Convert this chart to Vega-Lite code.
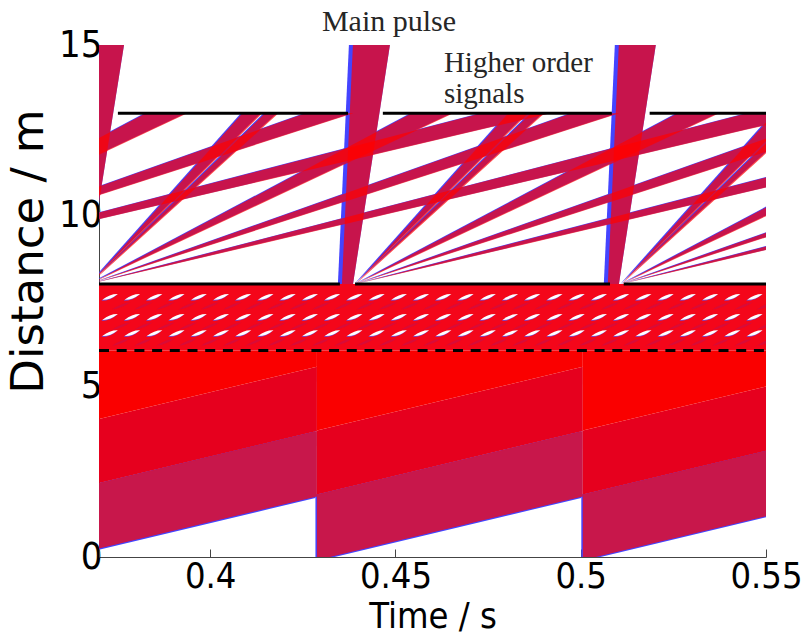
{
  "$schema": "https://vega.github.io/schema/vega-lite/v6.json",
  "width": 667,
  "height": 512,
  "autosize": "none",
  "padding": {"left": 99, "top": 45, "right": 36, "bottom": 78},
  "background": "white",
  "config": {"view": {"stroke": null}},
  "datasets": {
    "lower": [
      {"id": "c0", "layer": "crimson", "t": 0.35705, "lo": -0.091, "hi": 1.829},
      {"id": "c0", "layer": "crimson", "t": 0.42881, "lo": 1.775, "hi": 3.695},
      {"id": "c1", "layer": "crimson", "t": 0.42881, "lo": -0.091, "hi": 1.829},
      {"id": "c1", "layer": "crimson", "t": 0.50056, "lo": 1.775, "hi": 3.695},
      {"id": "c2", "layer": "crimson", "t": 0.50056, "lo": -0.091, "hi": 1.829},
      {"id": "c2", "layer": "crimson", "t": 0.57232, "lo": 1.775, "hi": 3.695},
      {"id": "d0", "layer": "darkred", "t": 0.35705, "lo": 1.829, "hi": 3.709},
      {"id": "d0", "layer": "darkred", "t": 0.42881, "lo": 3.695, "hi": 5.575},
      {"id": "d1", "layer": "darkred", "t": 0.42881, "lo": 1.829, "hi": 3.709},
      {"id": "d1", "layer": "darkred", "t": 0.50056, "lo": 3.695, "hi": 5.575},
      {"id": "d2", "layer": "darkred", "t": 0.50056, "lo": 1.829, "hi": 3.709},
      {"id": "d2", "layer": "darkred", "t": 0.57232, "lo": 3.695, "hi": 5.575},
      {"id": "r0", "layer": "red", "t": 0.35705, "lo": 3.709, "hi": 6.05},
      {"id": "r0", "layer": "red", "t": 0.42881, "lo": 5.575, "hi": 6.05},
      {"id": "r1", "layer": "red", "t": 0.42881, "lo": 3.709, "hi": 6.05},
      {"id": "r1", "layer": "red", "t": 0.50056, "lo": 5.575, "hi": 6.05},
      {"id": "r2", "layer": "red", "t": 0.50056, "lo": 3.709, "hi": 6.05},
      {"id": "r2", "layer": "red", "t": 0.57232, "lo": 5.575, "hi": 6.05}
    ],
    "mottle": [
      {"t": 0.37, "lo": 6.05, "hi": 8.0},
      {"t": 0.55, "lo": 6.05, "hi": 8.0}
    ],
    "dashes": [
      {"t": 0.373, "y": 7.62}, {"t": 0.379, "y": 7.62}, {"t": 0.385, "y": 7.62}, {"t": 0.391, "y": 7.62}, {"t": 0.397, "y": 7.62},
      {"t": 0.403, "y": 7.62}, {"t": 0.409, "y": 7.62}, {"t": 0.415, "y": 7.62}, {"t": 0.421, "y": 7.62}, {"t": 0.427, "y": 7.62},
      {"t": 0.433, "y": 7.62}, {"t": 0.439, "y": 7.62}, {"t": 0.445, "y": 7.62}, {"t": 0.451, "y": 7.62}, {"t": 0.457, "y": 7.62},
      {"t": 0.463, "y": 7.62}, {"t": 0.469, "y": 7.62}, {"t": 0.475, "y": 7.62}, {"t": 0.481, "y": 7.62}, {"t": 0.487, "y": 7.62},
      {"t": 0.493, "y": 7.62}, {"t": 0.499, "y": 7.62}, {"t": 0.505, "y": 7.62}, {"t": 0.511, "y": 7.62}, {"t": 0.517, "y": 7.62},
      {"t": 0.523, "y": 7.62}, {"t": 0.529, "y": 7.62}, {"t": 0.535, "y": 7.62}, {"t": 0.541, "y": 7.62}, {"t": 0.547, "y": 7.62},
      {"t": 0.373, "y": 7.03}, {"t": 0.379, "y": 7.03}, {"t": 0.385, "y": 7.03}, {"t": 0.391, "y": 7.03}, {"t": 0.397, "y": 7.03},
      {"t": 0.403, "y": 7.03}, {"t": 0.409, "y": 7.03}, {"t": 0.415, "y": 7.03}, {"t": 0.421, "y": 7.03}, {"t": 0.427, "y": 7.03},
      {"t": 0.433, "y": 7.03}, {"t": 0.439, "y": 7.03}, {"t": 0.445, "y": 7.03}, {"t": 0.451, "y": 7.03}, {"t": 0.457, "y": 7.03},
      {"t": 0.463, "y": 7.03}, {"t": 0.469, "y": 7.03}, {"t": 0.475, "y": 7.03}, {"t": 0.481, "y": 7.03}, {"t": 0.487, "y": 7.03},
      {"t": 0.493, "y": 7.03}, {"t": 0.499, "y": 7.03}, {"t": 0.505, "y": 7.03}, {"t": 0.511, "y": 7.03}, {"t": 0.517, "y": 7.03},
      {"t": 0.523, "y": 7.03}, {"t": 0.529, "y": 7.03}, {"t": 0.535, "y": 7.03}, {"t": 0.541, "y": 7.03}, {"t": 0.547, "y": 7.03},
      {"t": 0.373, "y": 6.56}, {"t": 0.379, "y": 6.56}, {"t": 0.385, "y": 6.56}, {"t": 0.391, "y": 6.56}, {"t": 0.397, "y": 6.56},
      {"t": 0.403, "y": 6.56}, {"t": 0.409, "y": 6.56}, {"t": 0.415, "y": 6.56}, {"t": 0.421, "y": 6.56}, {"t": 0.427, "y": 6.56},
      {"t": 0.433, "y": 6.56}, {"t": 0.439, "y": 6.56}, {"t": 0.445, "y": 6.56}, {"t": 0.451, "y": 6.56}, {"t": 0.457, "y": 6.56},
      {"t": 0.463, "y": 6.56}, {"t": 0.469, "y": 6.56}, {"t": 0.475, "y": 6.56}, {"t": 0.481, "y": 6.56}, {"t": 0.487, "y": 6.56},
      {"t": 0.493, "y": 6.56}, {"t": 0.499, "y": 6.56}, {"t": 0.505, "y": 6.56}, {"t": 0.511, "y": 6.56}, {"t": 0.517, "y": 6.56},
      {"t": 0.523, "y": 6.56}, {"t": 0.529, "y": 6.56}, {"t": 0.535, "y": 6.56}, {"t": 0.541, "y": 6.56}, {"t": 0.547, "y": 6.56}
    ],
    "bands": [
      {"id": "F0b", "t": 0.29581, "lo": 8, "hi": 8}, {"id": "F0b", "t": 0.38262, "lo": 12.427, "hi": 13}, {"id": "F0b", "t": 0.39385, "lo": 13, "hi": 13},
      {"id": "F0c", "t": 0.29581, "lo": 8, "hi": 8}, {"id": "F0c", "t": 0.42568, "lo": 12.545, "hi": 13}, {"id": "F0c", "t": 0.43867, "lo": 13, "hi": 13},
      {"id": "F0d", "t": 0.29581, "lo": 8, "hi": 8}, {"id": "F0d", "t": 0.47312, "lo": 12.521, "hi": 13}, {"id": "F0d", "t": 0.49189, "lo": 13, "hi": 13},
      {"id": "F1A1", "t": 0.36757, "lo": 8, "hi": 8}, {"id": "F1A1", "t": 0.40869, "lo": 12.42, "hi": 13}, {"id": "F1A1", "t": 0.41408, "lo": 13, "hi": 13},
      {"id": "F1A2", "t": 0.36757, "lo": 8, "hi": 8}, {"id": "F1A2", "t": 0.41478, "lo": 12.641, "hi": 13}, {"id": "F1A2", "t": 0.41844, "lo": 13, "hi": 13},
      {"id": "F1b", "t": 0.36757, "lo": 8, "hi": 8}, {"id": "F1b", "t": 0.45438, "lo": 12.427, "hi": 13}, {"id": "F1b", "t": 0.46561, "lo": 13, "hi": 13},
      {"id": "F1c", "t": 0.36757, "lo": 8, "hi": 8}, {"id": "F1c", "t": 0.49744, "lo": 12.545, "hi": 13}, {"id": "F1c", "t": 0.51043, "lo": 13, "hi": 13},
      {"id": "F1d", "t": 0.36757, "lo": 8, "hi": 8}, {"id": "F1d", "t": 0.54488, "lo": 12.521, "hi": 13}, {"id": "F1d", "t": 0.56365, "lo": 13, "hi": 13},
      {"id": "F2A1", "t": 0.43933, "lo": 8, "hi": 8}, {"id": "F2A1", "t": 0.48045, "lo": 12.42, "hi": 13}, {"id": "F2A1", "t": 0.48584, "lo": 13, "hi": 13},
      {"id": "F2A2", "t": 0.43933, "lo": 8, "hi": 8}, {"id": "F2A2", "t": 0.48654, "lo": 12.641, "hi": 13}, {"id": "F2A2", "t": 0.4902, "lo": 13, "hi": 13},
      {"id": "F2b", "t": 0.43933, "lo": 8, "hi": 8}, {"id": "F2b", "t": 0.52614, "lo": 12.427, "hi": 13}, {"id": "F2b", "t": 0.53737, "lo": 13, "hi": 13},
      {"id": "F2c", "t": 0.43933, "lo": 8, "hi": 8}, {"id": "F2c", "t": 0.5692, "lo": 12.545, "hi": 13}, {"id": "F2c", "t": 0.58219, "lo": 13, "hi": 13},
      {"id": "F2d", "t": 0.43933, "lo": 8, "hi": 8}, {"id": "F2d", "t": 0.61664, "lo": 12.521, "hi": 13}, {"id": "F2d", "t": 0.63541, "lo": 13, "hi": 13},
      {"id": "F3A1", "t": 0.51108, "lo": 8, "hi": 8}, {"id": "F3A1", "t": 0.5522, "lo": 12.42, "hi": 13}, {"id": "F3A1", "t": 0.55759, "lo": 13, "hi": 13},
      {"id": "F3A2", "t": 0.51108, "lo": 8, "hi": 8}, {"id": "F3A2", "t": 0.55829, "lo": 12.641, "hi": 13}, {"id": "F3A2", "t": 0.56195, "lo": 13, "hi": 13},
      {"id": "F3b", "t": 0.51108, "lo": 8, "hi": 8}, {"id": "F3b", "t": 0.59789, "lo": 12.427, "hi": 13}, {"id": "F3b", "t": 0.60912, "lo": 13, "hi": 13},
      {"id": "F3c", "t": 0.51108, "lo": 8, "hi": 8}, {"id": "F3c", "t": 0.64095, "lo": 12.545, "hi": 13}, {"id": "F3c", "t": 0.65394, "lo": 13, "hi": 13},
      {"id": "F3d", "t": 0.51108, "lo": 8, "hi": 8}, {"id": "F3d", "t": 0.68839, "lo": 12.521, "hi": 13}, {"id": "F3d", "t": 0.70717, "lo": 13, "hi": 13}
    ],
    "pulses": [
      {"id": "P1", "y": 8, "xl": 0.3638, "xr": 0.36649}, {"id": "P1", "y": 15, "xl": 0.36676, "xr": 0.37675},
      {"id": "P2", "y": 8, "xl": 0.43555, "xr": 0.43855}, {"id": "P2", "y": 15, "xl": 0.43852, "xr": 0.44851},
      {"id": "P3", "y": 8, "xl": 0.50731, "xr": 0.51031}, {"id": "P3", "y": 15, "xl": 0.51028, "xr": 0.52026}
    ],
    "solid": [
      {"y": 13, "t": 0.3751, "t2": 0.4372}, {"y": 13, "t": 0.4466, "t2": 0.5084}, {"y": 13, "t": 0.5186, "t2": 0.55},
      {"y": 8, "t": 0.37, "t2": 0.435}, {"y": 8, "t": 0.4391, "t2": 0.5079}, {"y": 8, "t": 0.5116, "t2": 0.55}
    ],
    "dashed": [{"y": 6.05, "t": 0.37, "t2": 0.55}],
    "labels": [
      {"t": 0.43016, "y": 15.42, "label": "Main pulse", "kind": "main"},
      {"t": 0.46307, "y": 14.2, "label": "Higher order\nsignals", "kind": "higher"}
    ]
  },
  "layer": [
    {
      "data": {"name": "lower"},
      "transform": [{"filter": "datum.layer == 'crimson'"}],
      "mark": {"type": "area", "color": "#4444FF", "clip": true, "xOffset": -1.5, "yOffset": 1.5},
      "encoding": {
        "x": {"field": "t", "type": "quantitative", "scale": {"domain": [0.37, 0.55], "nice": false, "zero": false},
          "title": "Time / s",
          "axis": {"values": [0.4, 0.45, 0.5, 0.55], "format": "~g", "grid": false,
            "tickSize": -8, "tickColor": "#444", "domainColor": "#444",
            "labelFont": "'Liberation Sans Narrow', 'Noto Sans Condensed', 'DejaVu Sans Condensed', 'Liberation Sans'",
            "labelFontSize": 36, "labelColor": "black", "labelBaseline": "alphabetic", "labelPadding": 38,
            "labelFlush": false, "labelOverlap": false, "labelBound": false,
            "titleFont": "'Liberation Sans Narrow', 'Noto Sans Condensed', 'DejaVu Sans Condensed', 'Liberation Sans'",
            "titleFontSize": 36, "titleFontWeight": "normal", "titleColor": "black",
            "titleY": 70, "titleBaseline": "alphabetic"}},
        "y": {"field": "lo", "type": "quantitative", "scale": {"domain": [0, 15], "nice": false, "zero": false},
          "title": "Distance / m",
          "axis": {"values": [0, 5, 10, 15], "format": "d", "grid": false,
            "tickSize": -6, "tickColor": "#444", "domainColor": "#444",
            "labelFont": "'Liberation Sans Narrow', 'Noto Sans Condensed', 'DejaVu Sans Condensed', 'Liberation Sans'",
            "labelFontSize": 38, "labelColor": "black", "labelPadding": 3,
            "titleFont": "DejaVu Sans", "titleFontSize": 45, "titleFontWeight": "normal", "titleColor": "black",
            "titleX": -57, "titleY": 206, "titleAngle": -90, "titleAlign": "center", "titleBaseline": "alphabetic"}},
        "y2": {"field": "hi"},
        "detail": {"field": "id"}
      }
    },
    {
      "data": {"name": "lower"},
      "mark": {"type": "area", "clip": true},
      "encoding": {
        "x": {"field": "t", "type": "quantitative", "title": "Time / s"},
        "y": {"field": "lo", "type": "quantitative", "title": "Distance / m"},
        "y2": {"field": "hi"},
        "detail": {"field": "id"},
        "color": {"field": "layer", "type": "nominal", "legend": null,
          "scale": {"domain": ["crimson", "darkred", "red"], "range": ["#C8174B", "#E6001E", "#FA0000"]}}
      }
    },
    {
      "data": {"name": "mottle"},
      "mark": {"type": "area", "color": "#F4061A", "clip": true},
      "encoding": {
        "x": {"field": "t", "type": "quantitative", "title": "Time / s"},
        "y": {"field": "lo", "type": "quantitative", "title": "Distance / m"},
        "y2": {"field": "hi"}
      }
    },
    {
      "data": {"name": "dashes"},
      "mark": {"type": "point", "filled": true, "color": "#B8125A", "opacity": 0.45, "size": 330, "xOffset": 11, "yOffset": 9,
        "shape": "M-1,0.4 Q0,-0.3 1,-0.4 Q0,0.3 -1,0.4 Z", "clip": true},
      "encoding": {
        "x": {"field": "t", "type": "quantitative", "title": "Time / s"},
        "y": {"field": "y", "type": "quantitative", "title": "Distance / m"}
      }
    },
    {
      "data": {"name": "dashes"},
      "mark": {"type": "point", "filled": true, "color": "#5A5AFF", "opacity": 0.8, "size": 240, "xOffset": -1, "yOffset": 1,
        "shape": "M-1,0.38 Q0,-0.42 1,-0.38 Q0,0.42 -1,0.38 Z"},
      "encoding": {
        "x": {"field": "t", "type": "quantitative", "title": "Time / s"},
        "y": {"field": "y", "type": "quantitative", "title": "Distance / m"}
      }
    },
    {
      "data": {"name": "dashes"},
      "mark": {"type": "point", "filled": true, "color": "white", "opacity": 1, "size": 240,
        "shape": "M-1,0.38 Q0,-0.42 1,-0.38 Q0,0.42 -1,0.38 Z"},
      "encoding": {
        "x": {"field": "t", "type": "quantitative", "title": "Time / s"},
        "y": {"field": "y", "type": "quantitative", "title": "Distance / m"}
      }
    },
    {
      "data": {"name": "bands"},
      "mark": {"type": "area", "color": "#4444FF", "clip": true, "xOffset": -1.5},
      "encoding": {
        "x": {"field": "t", "type": "quantitative", "title": "Time / s"},
        "y": {"field": "lo", "type": "quantitative", "title": "Distance / m"},
        "y2": {"field": "hi"},
        "detail": {"field": "id"}
      }
    },
    {
      "data": {"name": "pulses"},
      "mark": {"type": "area", "orient": "horizontal", "color": "#4444FF", "clip": true, "xOffset": -4},
      "encoding": {
        "y": {"field": "y", "type": "quantitative", "title": "Distance / m"},
        "x": {"field": "xl", "type": "quantitative", "title": "Time / s"},
        "x2": {"field": "xr"},
        "detail": {"field": "id"}
      }
    },
    {
      "data": {"name": "bands"},
      "mark": {"type": "area", "color": "#FF0000", "opacity": 0.7, "clip": true},
      "encoding": {
        "x": {"field": "t", "type": "quantitative", "title": "Time / s"},
        "y": {"field": "lo", "type": "quantitative", "title": "Distance / m"},
        "y2": {"field": "hi"},
        "detail": {"field": "id"}
      }
    },
    {
      "data": {"name": "pulses"},
      "mark": {"type": "area", "orient": "horizontal", "color": "#FF0000", "opacity": 0.7, "clip": true},
      "encoding": {
        "y": {"field": "y", "type": "quantitative", "title": "Distance / m"},
        "x": {"field": "xl", "type": "quantitative", "title": "Time / s"},
        "x2": {"field": "xr"},
        "detail": {"field": "id"}
      }
    },
    {
      "data": {"name": "solid"},
      "mark": {"type": "rule", "color": "black", "strokeWidth": 3},
      "encoding": {
        "x": {"field": "t", "type": "quantitative", "title": "Time / s"},
        "x2": {"field": "t2"},
        "y": {"field": "y", "type": "quantitative", "title": "Distance / m"}
      }
    },
    {
      "data": {"name": "dashed"},
      "mark": {"type": "rule", "color": "black", "strokeWidth": 3, "strokeDash": [10, 7.7]},
      "encoding": {
        "x": {"field": "t", "type": "quantitative", "title": "Time / s"},
        "x2": {"field": "t2"},
        "y": {"field": "y", "type": "quantitative", "title": "Distance / m"}
      }
    },
    {
      "data": {"name": "labels"},
      "transform": [{"filter": "datum.kind == 'main'"}],
      "mark": {"type": "text", "align": "left", "baseline": "alphabetic", "font": "Liberation Serif", "fontSize": 30,
        "color": "#262626"},
      "encoding": {
        "x": {"field": "t", "type": "quantitative", "title": "Time / s"},
        "y": {"field": "y", "type": "quantitative", "title": "Distance / m"},
        "text": {"field": "label"}
      }
    },
    {
      "data": {"name": "labels"},
      "transform": [{"filter": "datum.kind == 'higher'"}],
      "mark": {"type": "text", "align": "left", "baseline": "alphabetic", "font": "Liberation Serif", "fontSize": 29,
        "color": "#262626", "lineBreak": "\n", "lineHeight": 31},
      "encoding": {
        "x": {"field": "t", "type": "quantitative", "title": "Time / s"},
        "y": {"field": "y", "type": "quantitative", "title": "Distance / m"},
        "text": {"field": "label"}
      }
    }
  ]
}
